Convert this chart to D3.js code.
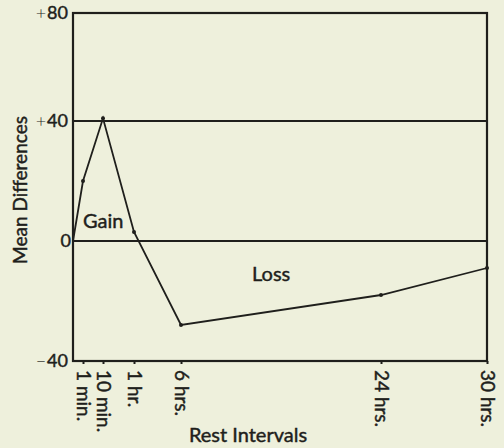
<!DOCTYPE html>
<html>
<head>
<meta charset="utf-8">
<script src="https://cdn.jsdelivr.net/npm/d3@7"></script>
<style>
  body { margin: 0; background: #eef0dc; }
  svg { display: block; font-family: Lato, 'DejaVu Sans', sans-serif; }
</style>
</head>
<body>
<svg id="chart" width="504" height="448"></svg>
<script>
// Data (rest interval in hours, mean difference)
const intervalHours = [0, 1 / 60, 10 / 60, 1, 6, 24, 30]
const meanDiffs = [0, 20, 41, 3, -28, -18, -9]
const tickHours = [1 / 60, 10 / 60, 1, 6, 24, 30]
const tickLabels = ['1 min.', '10 min.', '1 hr.', '6 hrs.', '24 hrs.', '30 hrs.']
const yTicks = [80, 40, 0, -40]
const ySigns = ['+', '+', '', '\u2212']
const yNums = ['80', '40', '0', '40']
const refLines = [40, 0]

const svg = d3.select('#chart')
const ink = '#1f1f1c'

// x is not linear in the original, so a piecewise scale over hours
const xScale = d3.scaleLinear()
  .domain([0, 1 / 60, 10 / 60, 1, 6, 24, 30])
  .range([73, 83, 103, 134, 181, 381, 487])

const yScale = d3.scaleLinear()
  .domain([-40, 0, 40, 80])
  .range([361, 241, 121, 13])

const [x0, x1] = [xScale(0), xScale(30)]

// slightly heavier text, like the printed original
const inked = sel => sel.attr('fill', ink).attr('stroke', ink).attr('stroke-width', 0.45)

// Frame
svg.append('rect')
  .attr('x', x0).attr('y', yScale(80))
  .attr('width', x1 - x0).attr('height', yScale(-40) - yScale(80))
  .attr('fill', 'none').attr('stroke', ink).attr('stroke-width', 2.2)

// Reference lines at +40 and 0
svg.selectAll('.ref')
  .data(refLines)
  .enter()
  .append('line')
  .attr('x1', x0).attr('x2', x1)
  .attr('y1', d => yScale(d)).attr('y2', d => yScale(d))
  .attr('stroke', ink).attr('stroke-width', 2.2)

// Y axis labels (thin sign + number)
const yLab = svg.selectAll('.ytick')
  .data(yTicks)
  .enter()
  .append('text')
  .attr('x', x0 - 3)
  .attr('y', d => yScale(d) + 6)
  .attr('text-anchor', 'end')
  .attr('font-size', 18)
  .attr('fill', ink)
yLab.append('tspan')
  .attr('font-weight', 300)
  .attr('dx', -2)
  .text((d, i) => ySigns[i])
yLab.append('tspan')
  .attr('dx', 1)
  .attr('stroke', ink).attr('stroke-width', 0.45)
  .text((d, i) => yNums[i])

// X axis ticks + rotated labels
const xAxis = svg.append('g')
  .attr('transform', `translate(0, ${yScale(-40)})`)
  .call(d3.axisBottom(xScale).tickValues(tickHours).tickSize(3).tickFormat((d, i) => tickLabels[i]))
xAxis.select('.domain').remove()
xAxis.selectAll('line').attr('stroke', ink).attr('stroke-width', 2)
xAxis.selectAll('text')
  .attr('font-size', 19)
  .attr('font-family', 'Lato, sans-serif')
  .attr('transform', 'rotate(90)')
  .attr('text-anchor', 'start')
  .attr('dy', '0.35em')
  .attr('x', 9)
  .attr('y', 0)
  .call(inked)

// Data line
const line = d3.line()
  .x((d, i) => xScale(intervalHours[i]))
  .y(d => yScale(d))

svg.append('path')
  .datum(meanDiffs)
  .attr('d', line)
  .attr('fill', 'none')
  .attr('stroke', ink)
  .attr('stroke-width', 1.8)

svg.selectAll('.pt')
  .data(meanDiffs.slice(1))
  .enter()
  .append('circle')
  .attr('cx', (d, i) => xScale(intervalHours[i + 1]))
  .attr('cy', d => yScale(d))
  .attr('r', 2)
  .attr('fill', ink)

// Region labels
svg.append('text').attr('x', 83).attr('y', 228).attr('font-size', 20).text('Gain').call(inked)
svg.append('text').attr('x', 252).attr('y', 281).attr('font-size', 20).text('Loss').call(inked)

// Axis titles
svg.append('text')
  .attr('transform', `translate(27, 190) rotate(-90)`)
  .attr('text-anchor', 'middle')
  .attr('font-size', 19)
  .text('Mean Differences')
  .call(inked)

svg.append('text')
  .attr('x', 248).attr('y', 442)
  .attr('text-anchor', 'middle')
  .attr('font-size', 20)
  .text('Rest Intervals')
  .call(inked)
</script>
</body>
</html>
